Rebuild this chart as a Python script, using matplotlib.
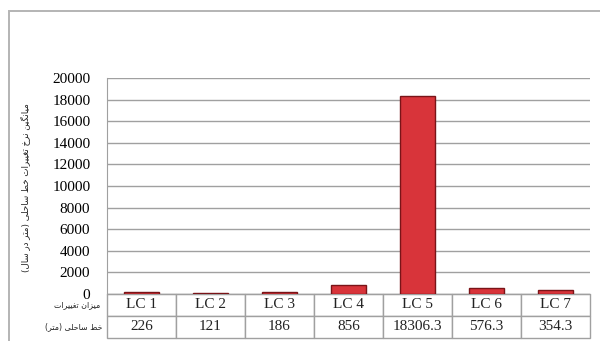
import numpy as np
import matplotlib
matplotlib.use("Agg")
import matplotlib.pyplot as plt
from matplotlib.patches import Rectangle

# data
categories = ["LC 1", "LC 2", "LC 3", "LC 4", "LC 5", "LC 6", "LC 7"]
values = [226, 121, 186, 856, 18306.3, 576.3, 354.3]
value_labels = ["226", "121", "186", "856", "18306.3", "576.3", "354.3"]
y_ticks = [0, 2000, 4000, 6000, 8000, 10000, 12000, 14000, 16000, 18000, 20000]
y_label = "میانگین نرخ تغییرات خط ساحلی (متر در سال)"
row_label_1 = "میزان تغییرات"
row_label_2 = "خط ساحلی (متر)"

# tiny arabic/persian shaper: (isolated, final, initial, medial)
forms = {
    "ا": ("\uFE8D", "\uFE8E", None, None),
    "د": ("\uFEA9", "\uFEAA", None, None),
    "ر": ("\uFEAD", "\uFEAE", None, None),
    "ز": ("\uFEAF", "\uFEB0", None, None),
    "ت": ("\uFE95", "\uFE96", "\uFE97", "\uFE98"),
    "ح": ("\uFEA1", "\uFEA2", "\uFEA3", "\uFEA4"),
    "خ": ("\uFEA5", "\uFEA6", "\uFEA7", "\uFEA8"),
    "س": ("\uFEB1", "\uFEB2", "\uFEB3", "\uFEB4"),
    "ط": ("\uFEC1", "\uFEC2", "\uFEC3", "\uFEC4"),
    "غ": ("\uFECD", "\uFECE", "\uFECF", "\uFED0"),
    "ل": ("\uFEDD", "\uFEDE", "\uFEDF", "\uFEE0"),
    "م": ("\uFEE1", "\uFEE2", "\uFEE3", "\uFEE4"),
    "ن": ("\uFEE5", "\uFEE6", "\uFEE7", "\uFEE8"),
    "ی": ("\uFBFC", "\uFBFD", "\uFBFE", "\uFBFF"),
    "گ": ("\uFB92", "\uFB93", "\uFB94", "\uFB95"),
}


def shape(s):
    out = []
    for i, ch in enumerate(s):
        if ch not in forms:
            out.append(ch)
            continue
        prev = s[i - 1] if i > 0 else ""
        nxt = s[i + 1] if i < len(s) - 1 else ""
        join_prev = prev in forms and forms[prev][2] is not None
        join_next = nxt in forms and forms[ch][2] is not None
        f = forms[ch]
        if join_prev and join_next:
            out.append(f[3])
        elif join_prev:
            out.append(f[1])
        elif join_next:
            out.append(f[2])
        else:
            out.append(f[0])
    swap = {"(": ")", ")": "("}
    return "".join(swap.get(c, c) for c in reversed(out))


fig = plt.figure(figsize=(6.0, 3.41), dpi=100)
fig.patches.append(Rectangle((9 / 600, -0.05), 1.1, 1 - 11 / 341 + 0.05,
                             transform=fig.transFigure, fill=False,
                             edgecolor="#b4b4b4", linewidth=1.4))

ax = fig.add_axes([107 / 600, 1 - 294 / 341, 483 / 600, 216 / 341])
x = np.arange(len(categories))
ax.bar(x, values, width=0.5, color="#d8343a", edgecolor="#7a1418", linewidth=1.0, zorder=3)
ax.set_xlim(-0.5, len(categories) - 0.5)
ax.set_ylim(0, 20000)
ax.set_yticks(y_ticks)
ax.set_yticklabels([str(t) for t in y_ticks], fontfamily="Liberation Serif", fontsize=11)
ax.tick_params(axis="y", length=0, pad=12)
ax.set_xticks([])
ax.yaxis.grid(True, color="#a0a0a0", linewidth=1.0, zorder=0)
for s in ["top", "right"]:
    ax.spines[s].set_visible(False)
for s in ["left", "bottom"]:
    ax.spines[s].set_color("#a0a0a0")

tbl = ax.table(cellText=[categories, value_labels], cellLoc="center",
               bbox=[0, -44 / 216, 1, 44 / 216])
tbl.auto_set_font_size(False)
for (r, c), cell in tbl.get_celld().items():
    cell.set_edgecolor("#a0a0a0")
    cell.set_linewidth(1.0)
    cell.get_text().set_fontfamily("Liberation Serif")
    cell.get_text().set_fontsize(11)
    cell.get_text().set_color("#222222")

fig.text(25 / 600, 1 - 188 / 341, shape(y_label), rotation=90, ha="center", va="center",
         fontsize=6.3, fontfamily="DejaVu Sans", color="#222222")
fig.text(100 / 600, 1 - 305 / 341, shape(row_label_1), ha="right", va="center",
         fontsize=5.7, fontfamily="DejaVu Sans", color="#222222")
fig.text(102 / 600, 1 - 327 / 341, shape(row_label_2), ha="right", va="center",
         fontsize=5.7, fontfamily="DejaVu Sans", color="#222222")

fig.savefig("out.png", dpi=100)
